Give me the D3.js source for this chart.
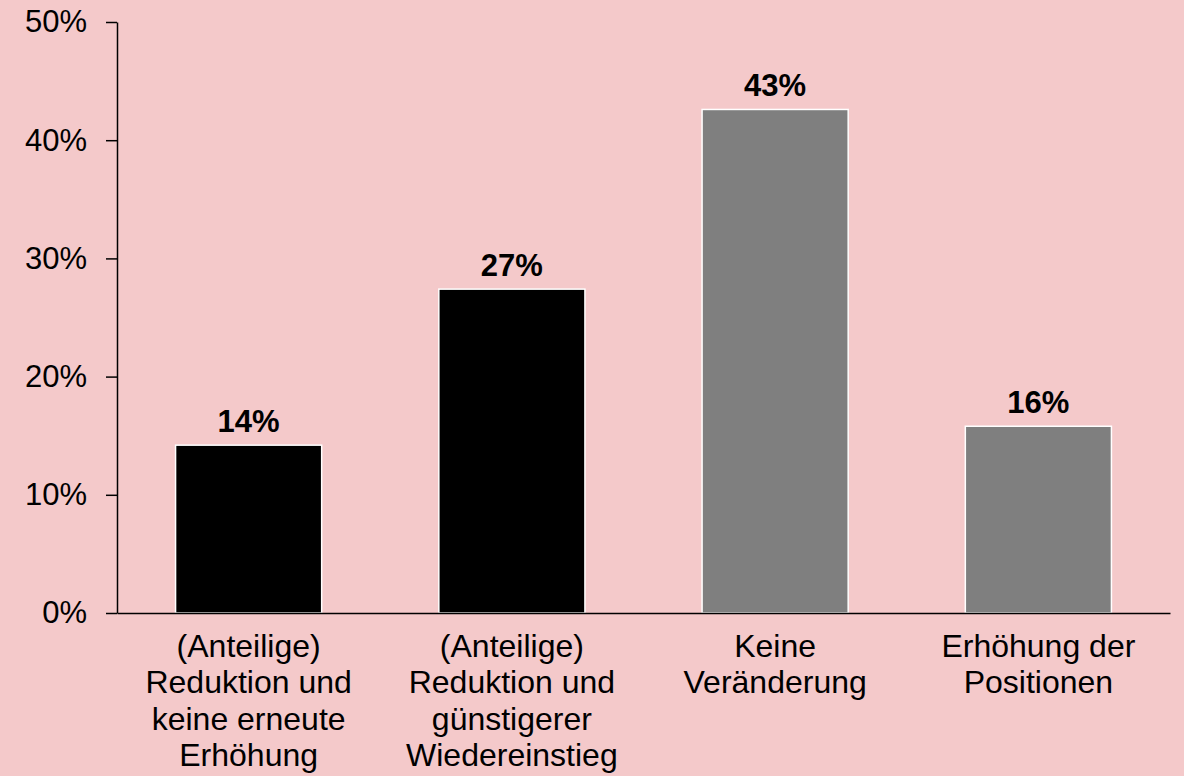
<!DOCTYPE html>
<html>
<head>
<meta charset="utf-8">
<script src="https://cdn.jsdelivr.net/npm/d3@7"></script>
<style>
  html, body { margin: 0; padding: 0; background: #f4c9ca; }
  svg { display: block; font-family: "Liberation Sans", Arial, sans-serif; }
  .axis path, .axis line { stroke: #000; stroke-width: 1.5px; }
  .axis text { font-size: 31px; fill: #000; }
</style>
</head>
<body>
<div class="container"></div>
<script>
const categories = [
    ['(Anteilige)', 'Reduktion und', 'keine erneute', 'Erhöhung'],
    ['(Anteilige)', 'Reduktion und', 'günstigerer', 'Wiedereinstieg'],
    ['Keine', 'Veränderung'],
    ['Erhöhung der', 'Positionen']
];
const values = [0.142, 0.274, 0.426, 0.158];
const barColors = ['#000000', '#000000', '#7f7f7f', '#7f7f7f'];
const yTicks = [0, 0.1, 0.2, 0.3, 0.4, 0.5];

const width = 1184, height = 776;
const margin = {top: 22, right: 14, bottom: 163, left: 117};

let svg = d3.select('.container')
    .append('svg')
    .attr('width', width)
    .attr('height', height);

let xScale = d3.scaleBand()
    .domain(d3.range(values.length))
    .range([margin.left, width - margin.right])
    .paddingInner(0.445)
    .paddingOuter(0.2225);

let yScale = d3.scaleLinear()
    .domain([0, 0.5])
    .range([height - margin.bottom, margin.top]);

// bars
svg.selectAll('rect.bar')
    .data(values)
    .enter().append('rect')
    .attr('class', 'bar')
    .attr('x', (d, i) => xScale(i))
    .attr('y', d => yScale(d))
    .attr('width', xScale.bandwidth())
    .attr('height', d => yScale(0) - yScale(d))
    .style('fill', (d, i) => barColors[i])
    .style('stroke', '#fff')
    .style('stroke-width', 1.5);

// value labels
svg.selectAll('text.value')
    .data(values)
    .enter().append('text')
    .attr('class', 'value')
    .attr('x', (d, i) => xScale(i) + xScale.bandwidth() / 2)
    .attr('y', d => yScale(d) - 13)
    .attr('text-anchor', 'middle')
    .style('font-size', '31px')
    .style('font-weight', 'bold')
    .text(d => Math.round(d * 100) + '%');

// y axis
let yAxis = d3.axisLeft(yScale)
    .tickValues(yTicks)
    .tickFormat(d3.format('.0%'))
    .tickSize(11)
    .tickSizeOuter(0)
    .tickPadding(19);

svg.append('g')
    .attr('class', 'axis')
    .attr('transform', 'translate(' + margin.left + ',0)')
    .call(yAxis);

// x axis (line only)
let xAxis = d3.axisBottom(xScale).tickSize(0).tickSizeOuter(0).tickFormat('');
svg.append('g')
    .attr('class', 'axis')
    .attr('transform', 'translate(0,' + yScale(0) + ')')
    .call(xAxis);

// category labels
let labels = svg.selectAll('text.cat')
    .data(categories)
    .enter().append('text')
    .attr('class', 'cat')
    .attr('text-anchor', 'middle')
    .style('font-size', '32px')
    .attr('transform', (d, i) => 'translate(' + (xScale(i) + xScale.bandwidth() / 2) + ',' + (yScale(0) + 44) + ')');

labels.selectAll('tspan')
    .data(d => d)
    .enter().append('tspan')
    .attr('x', 0)
    .attr('y', (d, j) => j * 36.4)
    .text(d => d);
</script>
</body>
</html>
